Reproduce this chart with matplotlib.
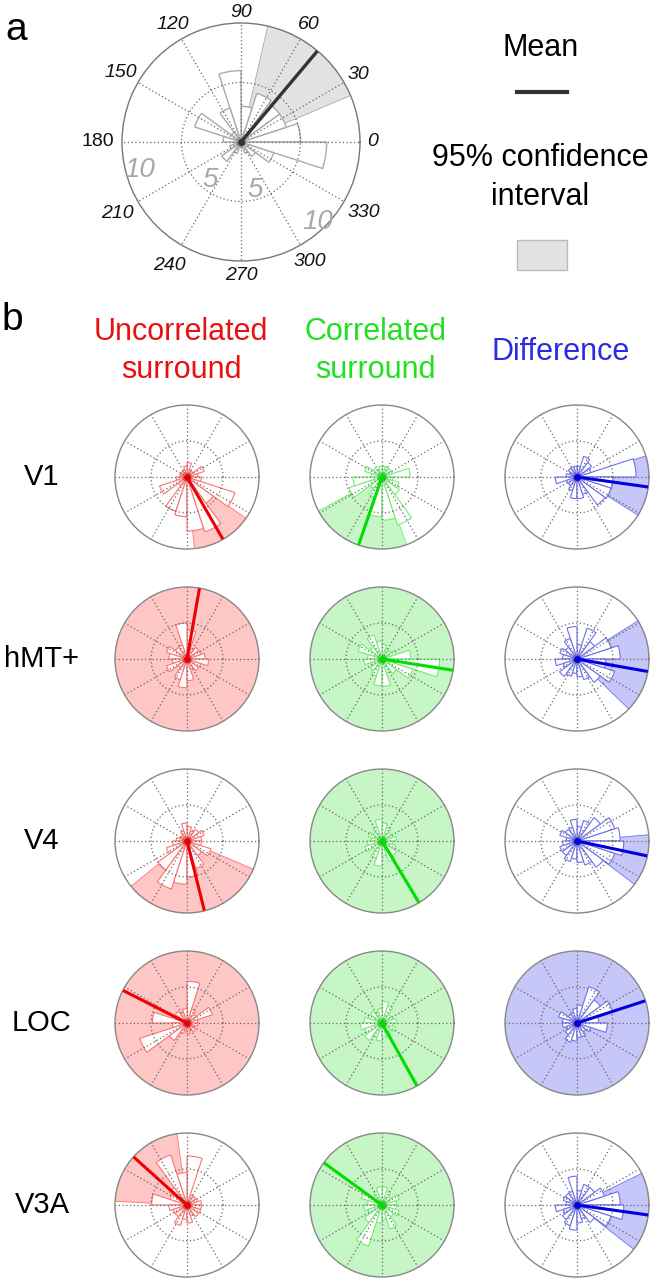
import numpy as np
import matplotlib.pyplot as plt
from matplotlib.lines import Line2D
from matplotlib.patches import Rectangle

plt.rcParams['font.family'] = ['Liberation Sans', 'DejaVu Sans']

W, H = 656, 1280
RMAX = 10
BIN = 18  # 20 rose bins, degrees

# panel a: example rose histogram
a_counts = [5.0, 4.0, 4.0, 4.3, 3.0, 6.0, 3.0, 1.0, 4.1, 1.5,
            0.5, 1.0, 2.0, 1.0, 0.5, 0.5, 1.0, 1.5, 2.9, 7.2]
a_mean = 50
a_ci = (23, 77)
a_tick_angles = [0, 30, 60, 90, 120, 150, 180, 210, 240, 270, 300, 330]
a_tick_radius = [11.1, 11.4, 11.4, 10.9, 11.4, 11.7, 12.0, 12.0, 12.0, 11.2, 11.6, 11.9]

regions = ['V1', 'hMT+', 'V4', 'LOC', 'V3A']
conditions = ['Uncorrelated\nsurround', 'Correlated\nsurround', 'Difference']

# counts per region (rows) and condition (columns)
counts = {
    ('V1', 0): [1.5, 2.5, 1, 1, 2, 1.5, 1, 1, 1, 1, 1.5, 4, 1.5, 5, 5.5, 7.5, 8, 4.5, 7, 2],
    ('V1', 1): [3.9, 1.5, 1.5, 1.5, 1.5, 1.5, 1, 1.5, 2.5, 1.5, 4, 4.8, 2, 3, 5.5, 6, 7, 3, 2.5, 1.5],
    ('V1', 2): [8.2, 2, 2.5, 3, 1.5, 1.5, 1.5, 1.5, 1, 1.5, 3, 1.5, 1.5, 2, 3, 3, 2.5, 4.8, 5, 5],
    ('hMT+', 0): [2.5, 2, 2, 1.5, 4, 5, 2, 2, 3, 2.5, 2, 3, 1.5, 3, 4, 3, 1.5, 2, 2, 3],
    ('hMT+', 1): [4, 2, 1.5, 1.5, 2, 2.5, 3.5, 2, 3.5, 2, 2.5, 1.5, 2, 2.5, 3.7, 3.8, 2, 2.5, 4.5, 8],
    ('hMT+', 2): [6, 5, 3, 4.5, 2, 4.5, 3, 2, 2.5, 2, 3, 2, 3, 2.5, 2, 2.5, 3, 4, 5.5, 4],
    ('V4', 0): [2, 2.5, 2, 1.5, 2, 2.5, 1.5, 1, 1, 1.5, 2, 3, 5, 7, 6, 5, 4, 2.5, 3.5, 2],
    ('V4', 1): [2, 1.5, 1.5, 2, 2.5, 3, 2, 1.5, 2, 1.5, 2, 2.5, 1.5, 2.5, 3.5, 2, 3, 2.5, 2, 1.5],
    ('V4', 2): [6, 5.5, 4, 3, 2, 3, 2, 2, 2.5, 1.5, 2, 2.5, 2.5, 3, 2.5, 3, 3.5, 4.5, 5.5, 6.5],
    ('LOC', 0): [1.5, 3.7, 1.5, 2, 5.8, 2, 1.5, 2, 1.5, 4.8, 2, 6.9, 3, 1.5, 1, 1.5, 1, 1.5, 1, 1.5],
    ('LOC', 1): [2, 1.5, 1.5, 2.5, 3, 2, 1.5, 2, 2, 2.5, 3, 2.5, 3, 2, 2.5, 2, 2, 1.5, 2, 1.5],
    ('LOC', 2): [3, 5.2, 4, 5.3, 2.5, 2, 1.5, 1.5, 2.7, 2, 2, 1.5, 2, 2.8, 2.5, 2, 2, 1.5, 2, 4.2],
    ('V3A', 0): [2, 1.5, 1.5, 1.5, 6.8, 4.5, 7.3, 3, 2.5, 4.9, 2.5, 2, 2, 3, 2, 2.5, 1.5, 2, 2, 2],
    ('V3A', 1): [2, 2.5, 1.5, 2, 2.5, 2.5, 2, 1.5, 3, 2, 2.5, 2, 3, 6, 2.5, 2, 3.5, 2, 2.5, 2],
    ('V3A', 2): [6, 4, 3, 3, 2, 4, 2, 2, 2, 1.5, 3, 2, 2.5, 3, 3.5, 2.5, 2, 3, 5, 6.5],
}

# mean direction (deg)
means = {
    ('V1', 0): 300, ('V1', 1): 251, ('V1', 2): -8,
    ('hMT+', 0): 80, ('hMT+', 1): -9, ('hMT+', 2): -10,
    ('V4', 0): 284, ('V4', 1): -59, ('V4', 2): -12,
    ('LOC', 0): 153, ('LOC', 1): -61, ('LOC', 2): 18,
    ('V3A', 0): 138, ('V3A', 1): 144, ('V3A', 2): -8,
}

# 95% CI (deg); None = whole circle
cis = {
    ('V1', 0): (276, 325), ('V1', 1): (208, 290), ('V1', 2): (-32, 17),
    ('hMT+', 0): None, ('hMT+', 1): None, ('hMT+', 2): (-44, 32),
    ('V4', 0): (219, 337), ('V4', 1): None, ('V4', 2): (-37, 5),
    ('LOC', 0): None, ('LOC', 1): None, ('LOC', 2): None,
    ('V3A', 0): (98, 177), ('V3A', 1): None, ('V3A', 2): (-38, 26),
}

line_cols = ['#ee0000', '#00dd00', '#0000dd']
fill_cols = ['#ffc6c6', '#c6f6c6', '#c6c6f8']
edge_cols = ['#ff7070', '#70ee70', '#7070ee']
head_cols = ['#e81010', '#20e020', '#2a2ae0']

fig = plt.figure(figsize=(W / 100, H / 100), dpi=100)


def polar_at(cx, cy, r):
    return fig.add_axes([(cx - r) / W, (H - cy - r) / H, 2 * r / W, 2 * r / H],
                        projection='polar')


def rose(ax, cnt, mean, ci, lc, fc, ec, grid_c='#666666', lw_mean=2.2, lw_bar=0.8):
    ax.set_ylim(0, RMAX)
    ax.set_xticks([])
    ax.set_yticks([])
    ax.grid(False)
    ax.spines['polar'].set_color('#888888')
    ax.spines['polar'].set_linewidth(1.0)
    lo, hi = (0, 360) if ci is None else ci
    th = np.deg2rad(np.linspace(lo, hi, 200))
    if ci is None:
        ax.fill(th, np.full_like(th, RMAX), color=fc, lw=0, zorder=1)
    else:
        ax.fill(np.r_[th[0], th, th[-1]], np.r_[0, np.full_like(th, RMAX), 0],
                facecolor=fc, edgecolor=ec, lw=0.6, zorder=1)
    left = np.deg2rad(np.arange(0, 360, BIN))
    ax.bar(left, cnt, width=np.deg2rad(BIN), align='edge', bottom=0,
           facecolor='white', edgecolor=ec, lw=lw_bar, zorder=2)
    full = np.linspace(0, 2 * np.pi, 300)
    ax.plot(full, np.full_like(full, RMAX / 2), ls=(0, (1, 2)), color=grid_c, lw=0.9, zorder=3)
    for a in np.deg2rad(np.arange(0, 360, 30)):
        ax.plot([a, a], [0, RMAX], ls=(0, (1, 2)), color=grid_c, lw=0.9, zorder=3)
    m = np.deg2rad(mean)
    ax.plot([m, m], [0, RMAX], color=lc, lw=lw_mean, solid_capstyle='butt', zorder=4)
    ax.plot([0], [0], 'o', color=lc, ms=4, zorder=5)


# ---- panel a ----
axa = polar_at(241, 142, 119)
rose(axa, a_counts, a_mean, a_ci, '#333333', '#e2e2e2', '#aaaaaa', lw_mean=2.4, lw_bar=1.0)
axa.spines['polar'].set_color('#777777')
for ang, rr in zip(a_tick_angles, a_tick_radius):
    axa.text(np.deg2rad(ang), rr, str(ang), ha='center', va='center', fontsize=14,
             style='normal' if ang == 180 else 'italic', color='#111111', clip_on=False)
for ang, rr, lab in [(195.5, 8.8, '10'), (231, 4.1, '5'), (286, 4.2, '5'), (314, 9.3, '10')]:
    axa.text(np.deg2rad(ang), rr, lab, ha='center', va='center', fontsize=20,
             style='italic', color='#a8a8a8', zorder=6)

fig.text(16 / W, 1 - 30 / H, 'a', fontsize=28, ha='center', va='center')
fig.text(541 / W, 1 - 48 / H, 'Mean', fontsize=22, ha='center', va='center')
fig.add_artist(Line2D([517 / W, 567 / W], [1 - 92 / H, 1 - 92 / H], color='#333333',
                      lw=3, transform=fig.transFigure))
fig.text(540 / W, 1 - 158 / H, '95% confidence', fontsize=22, ha='center', va='center')
fig.text(540 / W, 1 - 197 / H, 'interval', fontsize=22, ha='center', va='center')
fig.add_artist(Rectangle((517 / W, 1 - 270 / H), 50 / W, 30 / H, facecolor='#e2e2e2',
                         edgecolor='#bbbbbb', lw=1, transform=fig.transFigure))

# ---- panel b ----
fig.text(12 / W, 1 - 320 / H, 'b', fontsize=28, ha='center', va='center')
col_x = [187, 382, 577]
row_y = [477, 659, 841, 1023, 1205]
head_x = [181, 375, 561]
for j, cond in enumerate(conditions):
    if '\n' in cond:
        l1, l2 = cond.split('\n')
        fig.text(head_x[j] / W, 1 - 332 / H, l1, fontsize=22, color=head_cols[j], ha='center', va='center')
        fig.text(head_x[j] / W, 1 - 370 / H, l2, fontsize=22, color=head_cols[j], ha='center', va='center')
    else:
        fig.text(head_x[j] / W, 1 - 352 / H, cond, fontsize=22, color=head_cols[j], ha='center', va='center')

for i, reg in enumerate(regions):
    fig.text(42 / W, 1 - row_y[i] / H, reg, fontsize=21, ha='center', va='center')
    for j in range(3):
        ax = polar_at(col_x[j], row_y[i], 72)
        rose(ax, counts[(reg, j)], means[(reg, j)], cis[(reg, j)],
             line_cols[j], fill_cols[j], edge_cols[j])

fig.savefig('out.png', dpi=100)
